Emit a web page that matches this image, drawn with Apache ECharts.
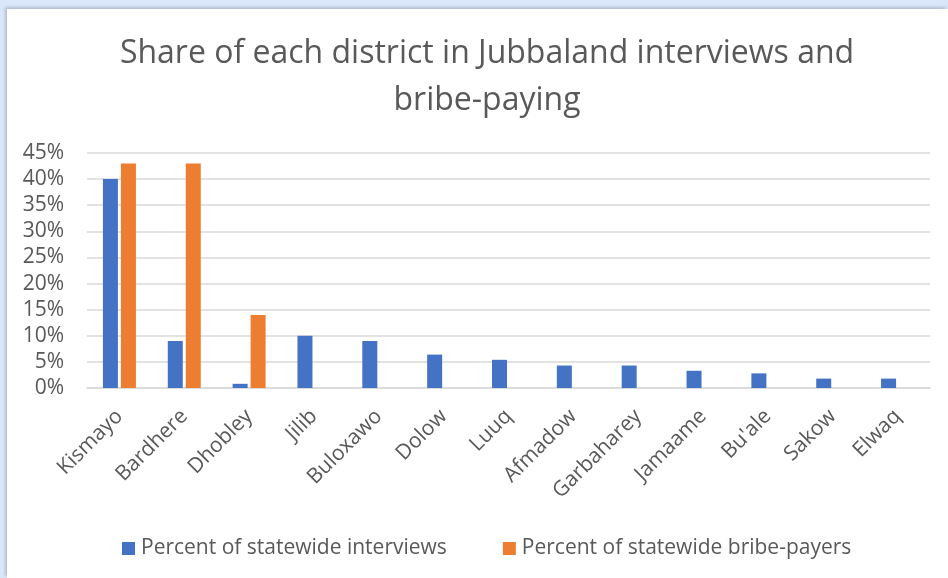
<!DOCTYPE html>
<html>
<head>
<meta charset="utf-8">
<script src="https://cdn.jsdelivr.net/npm/echarts@6/dist/echarts.min.js"></script>
<style>
  html, body { margin: 0; padding: 0; background: #dae7fb; }
  #panel {
    position: absolute; left: 7px; top: 9px; width: 941px; height: 569px;
    background: #ffffff; box-shadow: -2px -2px 3px rgba(0,0,0,0.18);
  }
  #chart { position: absolute; left: 0; top: 0; width: 948px; height: 578px; }
</style>
</head>
<body>
<div id="panel"></div>
<div id="chart"></div>
<script>
// Districts and their shares (%)
const districts = ['Kismayo', 'Bardhere', 'Dhobley', 'Jilib', 'Buloxawo', 'Dolow', 'Luuq',
  'Afmadow', 'Garbaharey', 'Jamaame', "Bu'ale", 'Sakow', 'Elwaq'];
const interviewsPct = [40, 9, 0.8, 10, 9, 6.4, 5.4, 4.3, 4.3, 3.3, 2.8, 1.8, 1.8];
const bribePayersPct = [43, 43, 14, 0, 0, 0, 0, 0, 0, 0, 0, 0, 0];
const seriesNames = ['Percent of statewide interviews', 'Percent of statewide bribe-payers'];
const titleText = 'Share of each district in Jubbaland interviews and\nbribe-paying';

const FONT = '"Open Sans", sans-serif';
const TXT = '#595959';

const chart = echarts.init(document.getElementById('chart'), null, { renderer: 'canvas' });
chart.setOption({
  backgroundColor: 'transparent',
  animation: false,
  title: {
    text: titleText,
    left: 482, top: 25, textAlign: 'center',
    textStyle: { fontFamily: FONT, fontSize: 32, fontWeight: 'normal', color: TXT, lineHeight: 47 }
  },
  legend: {
    left: 117, top: 533,
    itemWidth: 13, itemHeight: 13, itemGap: 56,
    icon: 'rect',
    textStyle: { fontFamily: FONT, fontSize: 21, color: TXT, padding: [0, 0, 0, 1] },
    data: seriesNames
  },
  grid: { left: 87, right: 18, top: 153, bottom: 190, containLabel: false },
  xAxis: {
    type: 'category',
    data: districts,
    axisLine: { lineStyle: { color: '#d9d9d9', width: 1.5 } },
    axisTick: { show: false },
    axisLabel: { rotate: 45, interval: 0, margin: 25, fontFamily: FONT, fontSize: 21, color: TXT }
  },
  yAxis: {
    type: 'value',
    min: 0, max: 45, interval: 5,
    axisLine: { show: false },
    axisTick: { show: false },
    splitLine: { lineStyle: { color: '#d9d9d9', width: 1.5 } },
    axisLabel: { formatter: '{value}%', margin: 23, fontFamily: FONT, fontSize: 21, color: TXT }
  },
  series: [
    { name: seriesNames[0], type: 'bar', data: interviewsPct, barWidth: 15, barGap: '20%',
      itemStyle: { color: '#4472c4' } },
    { name: seriesNames[1], type: 'bar', data: bribePayersPct, barWidth: 15, barGap: '20%',
      itemStyle: { color: '#ed7d31' } }
  ]
});
</script>
</body>
</html>
